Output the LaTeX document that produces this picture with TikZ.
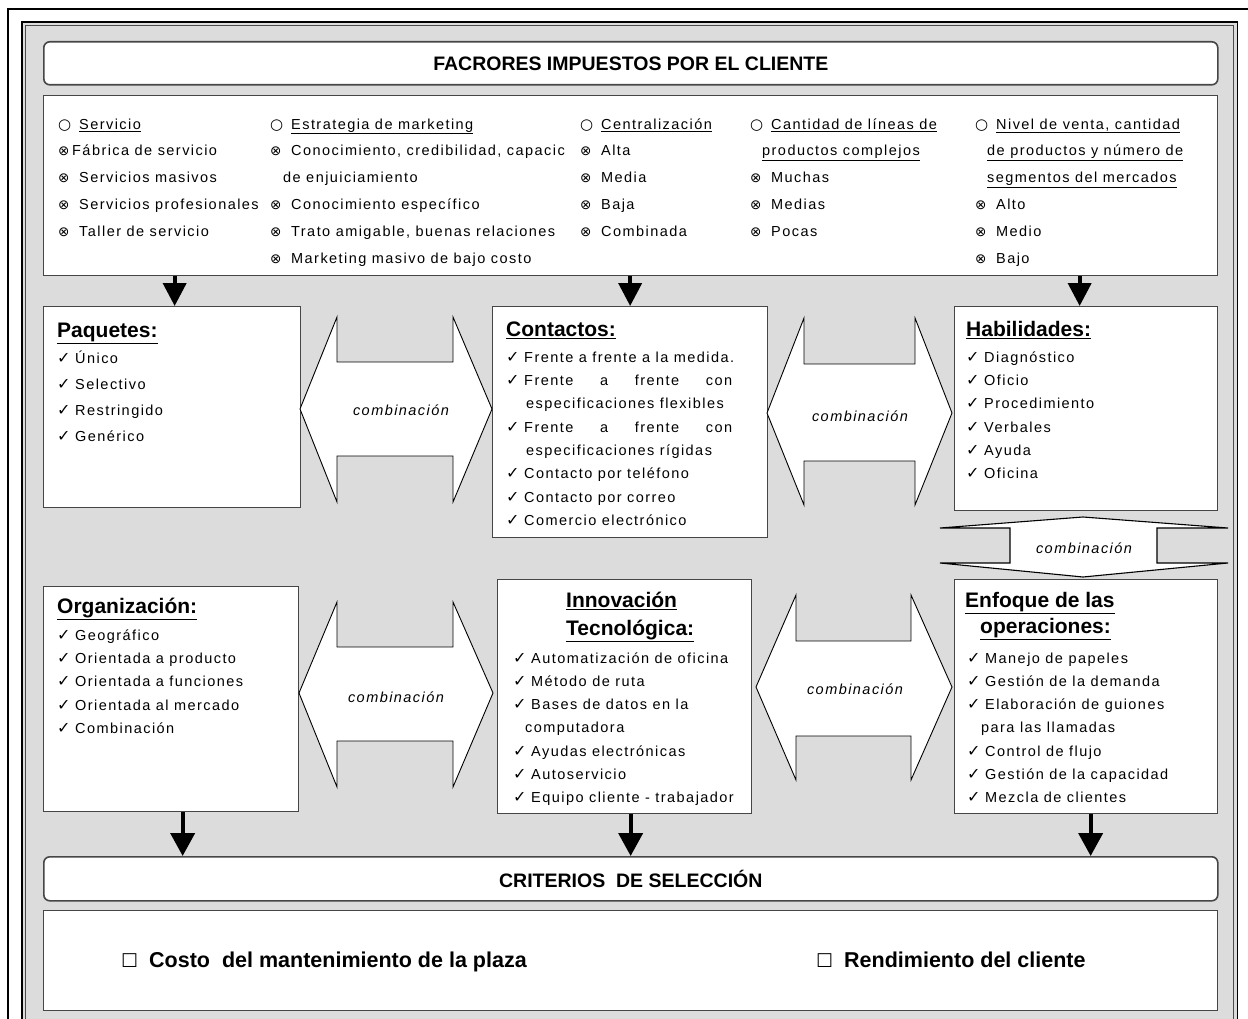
\documentclass[tikz,border=0pt]{standalone}
\usepackage{fontspec}
\setmainfont{Liberation Sans}
\newfontfamily\bodyf[LetterSpace=10]{Liberation Sans}
\newfontfamily\headf{Liberation Sans}
\newfontfamily\symf{DejaVu Sans}
\usetikzlibrary{arrows.meta}

\definecolor{panel}{RGB}{220,220,220}
\definecolor{edge}{RGB}{70,70,70}

% bullets and marks
\newcommand\ob{\makebox[21pt][l]{\symf\fontsize{15}{15}\selectfont ○}}
\newcommand\xb{\makebox[21pt][l]{\symf\fontsize{13.5}{13.5}\selectfont ⊗}}
\newcommand\xbt{\makebox[14pt][l]{\symf\fontsize{13.5}{13.5}\selectfont ⊗}}
\newcommand\ck{\makebox[18pt][l]{\symf\fontsize{16}{16}\selectfont ✓}}
\newcommand\fl{\rule{0pt}{20pt}}
\newcommand\tit[1]{{\headf\bfseries\fontsize{21}{21}\selectfont\underline{#1}}}
\newcommand\cbox{\makebox[28pt][l]{\symf\fontsize{19}{19}\selectfont ☐}}

\tikzset{
  box/.style={draw=edge, line width=1.3pt, fill=white, inner sep=0pt, anchor=north west},
  hdr/.style={draw=edge, line width=1.6pt, fill=white, rounded corners=6pt, inner sep=0pt,
    anchor=north west, font=\headf\bfseries\fontsize{19.5}{20}\selectfont},
  txt/.style={inner sep=0pt, anchor=north west, align=left},
  combo/.style={draw=black, line width=0.9pt, fill=white, line join=miter},
  clabel/.style={font=\bodyf\itshape\fontsize{14.5}{15}\selectfont, inner sep=0pt},
  downtop/.style={line width=4pt, -{Triangle[length=23pt,width=23pt]}},
  downbot/.style={line width=4pt, -{Triangle[length=23pt,width=24pt]}},
}

\begin{document}
\begin{tikzpicture}[x=1pt,y=-1pt]
\useasboundingbox (0,0) rectangle (1248,1019);
\clip (0,0) rectangle (1248,1019);
\fill[white] (0,0) rectangle (1248,1019);

% page frame and grey panel
\draw[line width=1.3pt] (8,1040) -- (8,9) -- (1260,9);
\fill[panel] (22,22) rectangle (1238,1040);
\draw[line width=1.2pt] (22,1040) -- (22,22) -- (1237.5,22) -- (1237.5,1040);
\draw[line width=1pt, black!70] (25.5,1040) -- (25.5,25.5) -- (1233.5,25.5) -- (1233.5,1040);

% headers
\node[hdr, minimum width=1174pt, minimum height=43pt] (hdrtop) at (43,41) {FACRORES IMPUESTOS POR EL CLIENTE};
\node[box, minimum width=1174pt, minimum height=180pt] (factors) at (43,95) {};

% factor columns
\node[txt, font=\bodyf\fontsize{14.5}{26.8}\selectfont] (col1) at (58,109) {%
\fl\ob\underline{Servicio}\\
\xbt Fábrica de servicio\\
\xb Servicios masivos\\
\xb Servicios profesionales\\
\xb Taller de servicio};
\node[txt, font=\bodyf\fontsize{14.5}{26.8}\selectfont] (col2) at (270,109) {%
\fl\ob\underline{Estrategia de marketing}\\
\xb Conocimiento, credibilidad, capacic\\
\hspace*{13pt}de enjuiciamiento\\
\xb Conocimiento específico\\
\xb Trato amigable, buenas relaciones\\
\xb Marketing masivo de bajo costo};
\node[txt, font=\bodyf\fontsize{14.5}{26.8}\selectfont] (col3) at (580,109) {%
\fl\ob\underline{Centralización}\\
\xb Alta\\
\xb Media\\
\xb Baja\\
\xb Combinada};
\node[txt, font=\bodyf\fontsize{14.5}{26.8}\selectfont] (col4) at (750,109) {%
\fl\ob\underline{Cantidad de líneas de}\\
\hspace*{12pt}\underline{productos complejos}\\
\xb Muchas\\
\xb Medias\\
\xb Pocas};
\node[txt, font=\bodyf\fontsize{14.5}{26.8}\selectfont] (col5) at (975,109) {%
\fl\ob\underline{Nivel de venta, cantidad}\\
\hspace*{12pt}\underline{de productos y número de}\\
\hspace*{12pt}\underline{segmentos del mercados}\\
\xb Alto\\
\xb Medio\\
\xb Bajo};

% upper row of boxes
\node[box, minimum width=257pt, minimum height=201pt] (paq) at (43,306) {};
\node[box, minimum width=275pt, minimum height=231pt] (cont) at (492,306) {};
\node[box, minimum width=263pt, minimum height=204pt] (hab) at (954,306) {};

\node[txt, font=\bodyf\fontsize{14.5}{25.8}\selectfont] (paqtext) at (57,317) {%
\fl\tit{Paquetes:}\\[0.7pt]
\ck Único\\
\ck Selectivo\\
\ck Restringido\\
\ck Genérico};
\node[txt, font=\bodyf\fontsize{14.5}{23.3}\selectfont] (conttext) at (506,316) {%
\fl\tit{Contactos:}\\[2.7pt]
\ck Frente a frente a la medida.\\
\ck\hbox to 208pt{Frente\hfill a\hfill frente\hfill con}\\
\hspace*{20pt}especificaciones flexibles\\
\ck\hbox to 208pt{Frente\hfill a\hfill frente\hfill con}\\
\hspace*{20pt}especificaciones rígidas\\
\ck Contacto por teléfono\\
\ck Contacto por correo\\
\ck Comercio electrónico};
\node[txt, font=\bodyf\fontsize{14.5}{23.3}\selectfont] (habtext) at (966,316) {%
\fl\tit{Habilidades:}\\[2.7pt]
\ck Diagnóstico\\
\ck Oficio\\
\ck Procedimiento\\
\ck Verbales\\
\ck Ayuda\\
\ck Oficina};

% lower row of boxes
\node[box, minimum width=255pt, minimum height=225pt] (org) at (43,586) {};
\node[box, minimum width=254pt, minimum height=234pt] (inn) at (497,579) {};
\node[box, minimum width=263pt, minimum height=234pt] (enf) at (954,579) {};

\node[txt, font=\bodyf\fontsize{14.5}{23.3}\selectfont] (orgtext) at (57,593) {%
\fl\tit{Organización:}\\[3.7pt]
\ck Geográfico\\
\ck Orientada a producto\\
\ck Orientada a funciones\\
\ck Orientada al mercado\\
\ck Combinación};
\node[txt, font=\headf\bfseries\fontsize{21}{28}\selectfont] (inntitle) at (566,587) {%
\fl\tit{Innovación}\\
\tit{Tecnológica:}};
\node[txt, font=\bodyf\fontsize{14.5}{23.2}\selectfont] (inntext) at (513,643) {%
\fl\ck Automatización de oficina\\
\ck Método de ruta\\
\ck Bases de datos en la\\
\hspace*{12pt}computadora\\
\ck Ayudas electrónicas\\
\ck Autoservicio\\
\ck Equipo cliente - trabajador};
\node[txt, font=\headf\bfseries\fontsize{21}{26}\selectfont] (enftitle) at (965,587) {%
\fl\tit{Enfoque de las}\\
\hspace*{15pt}\tit{operaciones:}};
\node[txt, font=\bodyf\fontsize{14.5}{23.2}\selectfont] (enftext) at (967,643) {%
\fl\ck Manejo de papeles\\
\ck Gestión de la demanda\\
\ck Elaboración de guiones\\
\hspace*{14pt}para las llamadas\\
\ck Control de flujo\\
\ck Gestión de la capacidad\\
\ck Mezcla de clientes};

% combination double arrows
\draw[combo] (300,409) -- (337,317) -- (337,362) -- (453,362) -- (453,317) -- (492,409)
  -- (453,502) -- (453,456) -- (337,456) -- (337,502) -- cycle;
\node[clabel] (comb1) at (401,410) {combinación};
\draw[combo] (767,413) -- (804,318) -- (804,364) -- (915,364) -- (915,318) -- (952,413)
  -- (915,505) -- (915,461) -- (804,461) -- (804,505) -- cycle;
\node[clabel] (comb2) at (860,416) {combinación};
\draw[combo] (299,693) -- (337,602) -- (337,647) -- (453,647) -- (453,602) -- (493,693)
  -- (453,787) -- (453,741) -- (337,741) -- (337,787) -- cycle;
\node[clabel] (comb3) at (396,697) {combinación};
\draw[combo] (756,687) -- (796,595) -- (796,641) -- (911,641) -- (911,595) -- (952,687)
  -- (911,780) -- (911,736) -- (796,736) -- (796,780) -- cycle;
\node[clabel] (comb4) at (855,689) {combinación};
\draw[combo, line width=1.1pt] (940,528) -- (1083,517) -- (1228,528) -- (1157,528) -- (1157,563)
  -- (1228,563) -- (1083,577) -- (940,563) -- (1010,563) -- (1010,528) -- cycle;
\node[clabel] (comb5) at (1084,548) {combinación};

% selection criteria
\node[hdr, minimum width=1174pt, minimum height=44pt] (crit) at (43,856) {CRITERIOS\ \ DE SELECCIÓN};
\node[box, minimum width=1174pt, minimum height=100pt] (crbox) at (43,910) {};
\node[inner sep=0pt, anchor=base west, font=\headf\bfseries\fontsize{21.5}{22}\selectfont] (crit1) at (121,967.5)
  {\cbox Costo\ \ del mantenimiento de la plaza};
\node[inner sep=0pt, anchor=base west, font=\headf\bfseries\fontsize{21.5}{22}\selectfont] (crit2) at (816,967.5)
  {\cbox Rendimiento del cliente};

% flow arrows
\draw[downtop] ([xshift=2.5pt]paq.north |- factors.south) -- ([xshift=2.5pt]paq.north);
\draw[downtop] (cont.north |- factors.south) -- (cont.north);
\draw[downtop] ([xshift=-6.5pt]hab.north |- factors.south) -- ([xshift=-6.5pt]hab.north);
\draw[downbot] ([xshift=11.5pt]org.south) -- ([xshift=11.5pt]org.south |- crit.north);
\draw[downbot] ([xshift=6pt]inn.south) -- ([xshift=6pt]inn.south |- crit.north);
\draw[downbot] ([xshift=4.5pt]enf.south) -- ([xshift=4.5pt]enf.south |- crit.north);
\end{tikzpicture}
\end{document}
